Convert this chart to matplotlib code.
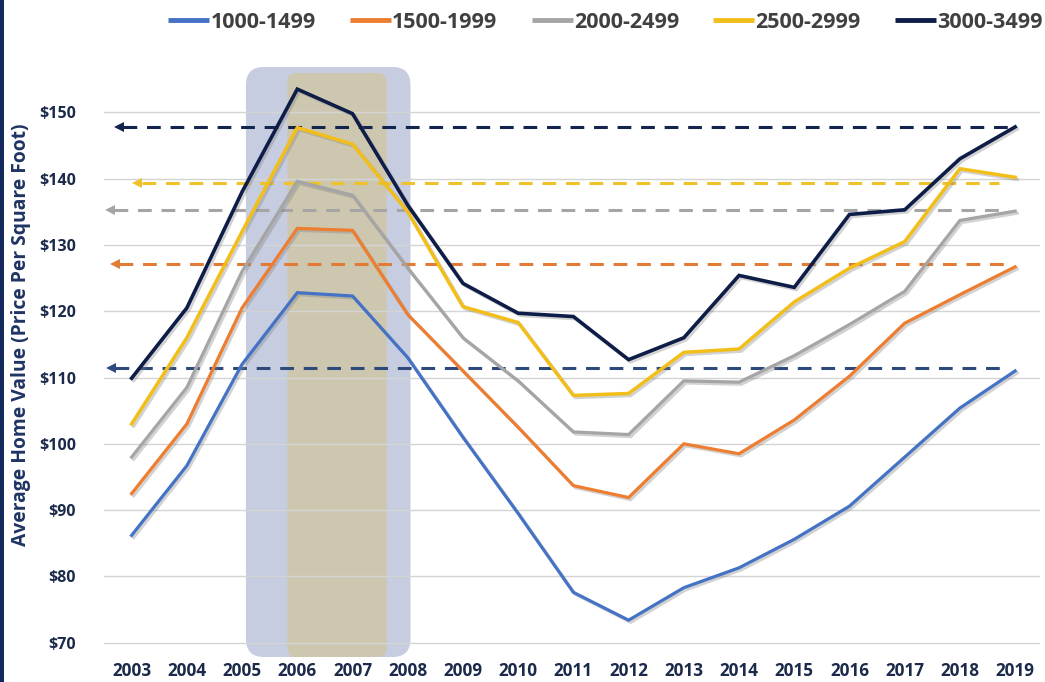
import matplotlib
matplotlib.use("Agg")
import matplotlib.pyplot as plt
from matplotlib.patches import FancyBboxPatch, Rectangle
from matplotlib.transforms import IdentityTransform
import matplotlib.patheffects as pe
from matplotlib.ticker import FixedLocator, FuncFormatter

# ---------------- data ----------------
years = list(range(2003, 2020))
series_names = ["1000-1499", "1500-1999", "2000-2499", "2500-2999", "3000-3499"]
v_1000_1499 = [86.2, 96.7, 112.0, 122.8, 122.3, 113.0, 101.0, 89.5, 77.6, 73.4,
               78.3, 81.3, 85.6, 90.6, 98.0, 105.4, 111.0]
v_1500_1999 = [92.5, 103.0, 120.5, 132.5, 132.2, 119.5, 111.0, 102.5, 93.7, 91.9,
               100.0, 98.5, 103.6, 110.2, 118.2, 122.5, 126.7]
v_2000_2499 = [98.0, 108.5, 126.0, 139.6, 137.5, 126.5, 116.0, 109.5, 101.8, 101.4,
               109.5, 109.3, 113.3, 118.0, 123.0, 133.7, 135.1]
v_2500_2999 = [103.0, 116.0, 132.0, 147.7, 145.2, 135.0, 120.7, 118.3, 107.3, 107.6,
               113.8, 114.3, 121.4, 126.5, 130.5, 141.5, 140.2]
v_3000_3499 = [109.9, 120.5, 138.0, 153.5, 149.8, 136.0, 124.2, 119.7, 119.2, 112.7,
               116.0, 125.4, 123.6, 134.6, 135.3, 143.0, 147.8]
dash_levels = [111.4, 127.1, 135.2, 139.4, 147.8]
y_ticks = [70, 80, 90, 100, 110, 120, 130, 140, 150]
shade_outer = [2005.07, 2008.05]   # highlighted period (outer band)
shade_inner = [2005.82, 2007.62]   # highlighted period (inner band)

# ---------------- style ----------------
line_colors = ["#4472C4", "#ED7D31", "#A5A5A5", "#F2BE1A", "#0E1D48"]
dash_colors = ["#2E4A7C", "#E27B35", "#A5A5A5", "#EEC22A", "#13244E"]
line_widths = [2.3, 2.3, 2.3, 2.5, 2.6]
dash_start = [2002.52, 2002.60, 2002.50, 2003.00, 2002.67]
dash_end = [2018.77, 2018.86, 2018.84, 2018.71, 2019.0]
navy_text = "#1B2A4A"
FONT = ["Open Sans", "DejaVu Sans"]

W, H = 1045, 682
fig = plt.figure(figsize=(W / 100, H / 100), dpi=100)
fig.patch.set_facecolor("white")

ax_l, ax_r, ax_b, ax_t = 104, 1040, 656, 59.3
ax = fig.add_axes([ax_l / W, (H - ax_b) / H, (ax_r - ax_l) / W, (ax_b - ax_t) / H])
ax.set_zorder(2)
ax.patch.set_alpha(0)
ax.set_xlim(2002.5, 2019.45)
ax.set_ylim(68, 158)
for s in ax.spines.values():
    s.set_visible(False)

ax.yaxis.set_major_locator(FixedLocator(y_ticks))
ax.yaxis.set_major_formatter(FuncFormatter(lambda v, p: f"${v:.0f}"))
ax.set_xticks(years)
ax.set_xticklabels([str(y) for y in years])
ax.tick_params(axis="both", length=0, colors=navy_text)
ax.tick_params(axis="y", pad=20)
ax.tick_params(axis="x", pad=4)
for lab in ax.get_yticklabels():
    lab.set_fontfamily(FONT)
    lab.set_fontweight("bold")
    lab.set_fontsize(11.5)
    lab.set_color(navy_text)
for lab in ax.get_xticklabels():
    lab.set_fontfamily(FONT)
    lab.set_fontweight("bold")
    lab.set_fontsize(12.3)
    lab.set_color(navy_text)

ax.yaxis.grid(True, color="#D4D4D4", linewidth=1.0, zorder=1.0)
ax.xaxis.grid(False)
ax.set_axisbelow(False)

# --- highlighted periods (rounded bands in display coordinates) ---
def band(x0, x1, top_px, bot_px, color, rad, z):
    p0 = ax.transData.transform((x0, 100))
    p1 = ax.transData.transform((x1, 100))
    y_bot = H - bot_px
    y_top = H - top_px
    box = FancyBboxPatch((p0[0] + rad, y_bot + rad), (p1[0] - p0[0]) - 2 * rad,
                         (y_top - y_bot) - 2 * rad,
                         boxstyle=f"round,pad={rad}", transform=IdentityTransform(),
                         facecolor=color, edgecolor="none", zorder=z, clip_on=False)
    fig.add_artist(box)

band(shade_outer[0], shade_outer[1], 67, 657, "#C7CDE0", 18, 0.1)
band(shade_inner[0], shade_inner[1], 73, 657, "#CEC7B0", 9, 0.2)

# --- dashed reference lines with arrowheads ---
for lvl, c, x0, x1 in zip(dash_levels, dash_colors, dash_start, dash_end):
    ax.plot([x0 + 0.18, x1], [lvl, lvl], color=c, lw=2.2, dashes=(4.5, 3.2),
            zorder=3, clip_on=False, solid_capstyle="butt", dash_capstyle="butt")
    ax.plot([x0 + 0.1], [lvl], marker="<", markersize=7, color=c,
            markeredgewidth=0, zorder=3, clip_on=False)

# --- main series ---
all_series = [v_1000_1499, v_1500_1999, v_2000_2499, v_2500_2999, v_3000_3499]
for vals, name, c, lw in zip(all_series, series_names, line_colors, line_widths):
    ax.plot(years, vals, color=c, lw=lw, label=name, zorder=4,
            solid_joinstyle="miter",
            path_effects=[pe.SimpleLineShadow(offset=(1.5, -1.5), shadow_color="#808080",
                                              alpha=0.35, rho=1),
                          pe.Normal()])

# --- y label ---
fig.text(21 / W, 1 - 335 / H, "Average Home Value (Price Per Square Foot)",
         rotation=90, ha="center", va="center", fontsize=13.9, fontweight="bold",
         color="#1F3463", family=FONT)

# --- legend ---
leg_handles = [plt.Line2D([], [], color=c, lw=3.5, solid_capstyle="butt") for c in line_colors]
leg = fig.legend(leg_handles, series_names, loc="center", ncol=5,
                 bbox_to_anchor=(605.5 / W, 1 - 22 / H), frameon=False,
                 prop={"family": FONT, "weight": "bold", "size": 15.5},
                 handlelength=1.9, handletextpad=0.05, columnspacing=1.6,
                 borderpad=0, borderaxespad=0)
for t in leg.get_texts():
    t.set_color("#404040")

# --- left border stripe ---
fig.add_artist(Rectangle((0, 0), 4 / W, 1, transform=fig.transFigure,
                         facecolor="#13295B", edgecolor="none", zorder=10))

fig.savefig("out.png", dpi=100, facecolor="white")
